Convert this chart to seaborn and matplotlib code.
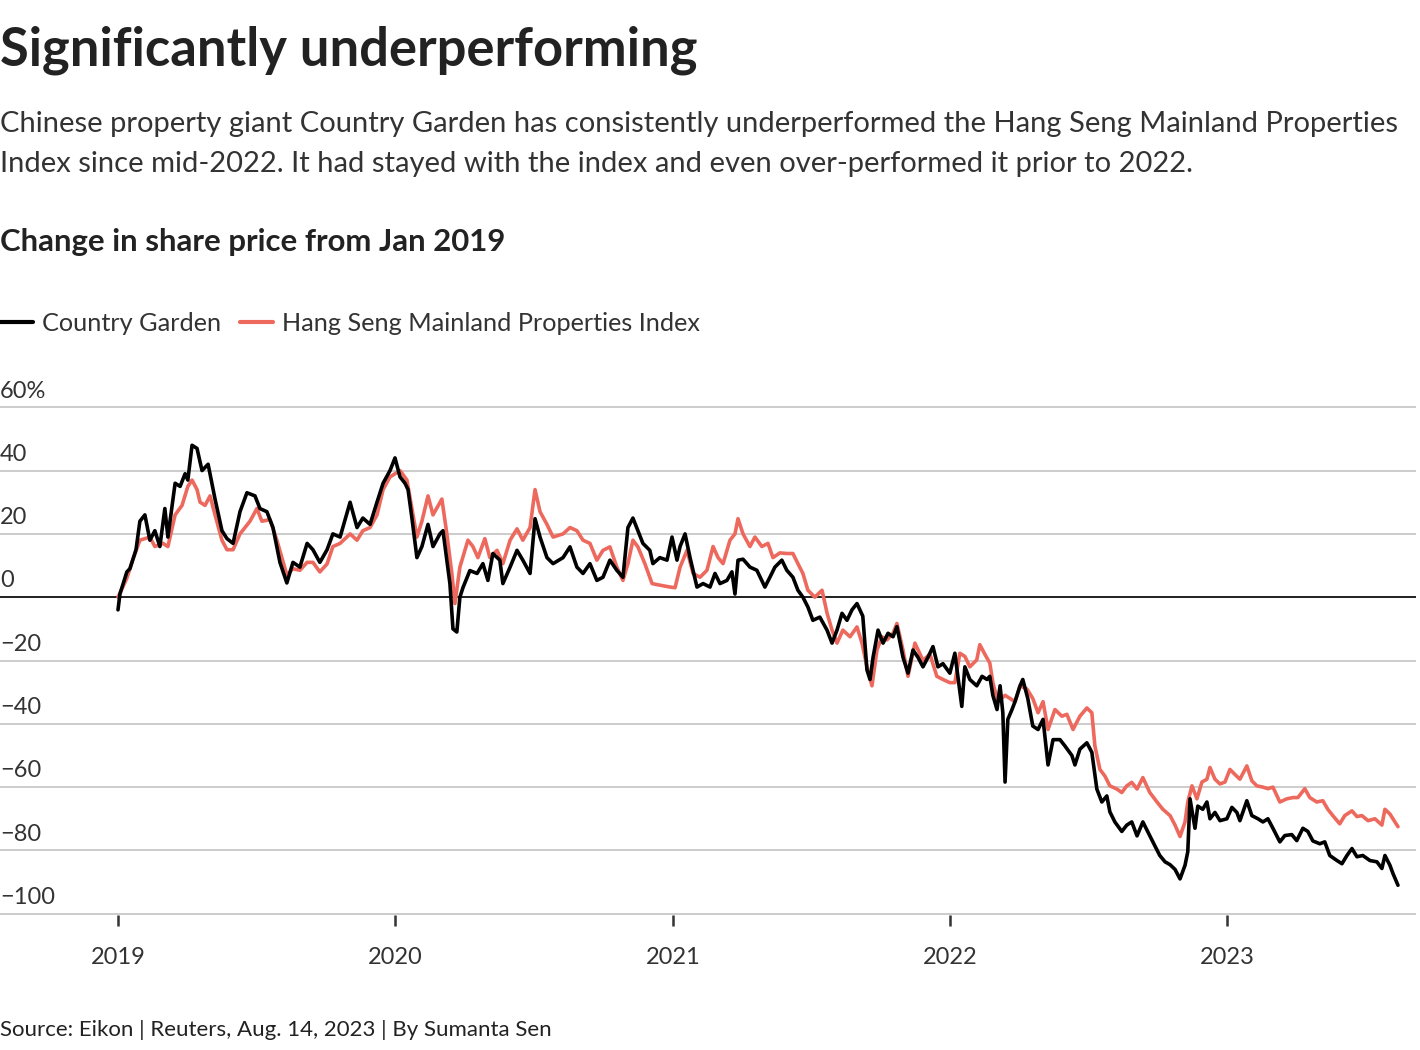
import pandas as pd
import numpy as np
import matplotlib
matplotlib.use("Agg")
import matplotlib.pyplot as plt
import matplotlib.transforms as mtransforms
from matplotlib.lines import Line2D
import seaborn as sns

cg_years = [0.000, 0.007, 0.032, 0.043, 0.065, 0.079, 0.097, 0.115, 0.133, 0.151, 0.169, 0.180,
            0.206, 0.224, 0.242, 0.252, 0.267, 0.285, 0.303, 0.325, 0.350, 0.375, 0.393, 0.415,
            0.440, 0.465, 0.494, 0.512, 0.537, 0.559, 0.584, 0.609, 0.631, 0.656, 0.682, 0.703,
            0.728, 0.754, 0.775, 0.801, 0.837, 0.862, 0.883, 0.909, 0.934, 0.956, 0.981, 0.999,
            1.017, 1.035, 1.046, 1.060, 1.078, 1.096, 1.118, 1.136, 1.161, 1.172, 1.186, 1.197,
            1.208, 1.222, 1.233, 1.244, 1.269, 1.295, 1.316, 1.334, 1.352, 1.377, 1.388, 1.414,
            1.439, 1.460, 1.486, 1.504, 1.522, 1.547, 1.569, 1.605, 1.630, 1.655, 1.677, 1.702,
            1.727, 1.749, 1.774, 1.799, 1.821, 1.839, 1.857, 1.875, 1.893, 1.918, 1.929, 1.954,
            1.980, 1.998, 2.016, 2.027, 2.045, 2.063, 2.088, 2.110, 2.135, 2.153, 2.171, 2.196,
            2.214, 2.225, 2.236, 2.254, 2.279, 2.304, 2.333, 2.351, 2.369, 2.394, 2.412, 2.434,
            2.452, 2.470, 2.488, 2.506, 2.531, 2.557, 2.575, 2.593, 2.611, 2.629, 2.647, 2.665,
            2.686, 2.701, 2.712, 2.723, 2.741, 2.759, 2.777, 2.795, 2.809, 2.831, 2.849, 2.867,
            2.885, 2.903, 2.921, 2.939, 2.957, 2.975, 3.000, 3.018, 3.043, 3.054, 3.072, 3.097,
            3.116, 3.134, 3.144, 3.155, 3.170, 3.181, 3.191, 3.199, 3.209, 3.224, 3.235, 3.253,
            3.263, 3.281, 3.299, 3.318, 3.336, 3.354, 3.372, 3.397, 3.415, 3.440, 3.451, 3.469,
            3.494, 3.512, 3.530, 3.548, 3.566, 3.577, 3.595, 3.620, 3.638, 3.656, 3.675, 3.696,
            3.721, 3.739, 3.757, 3.776, 3.794, 3.812, 3.830, 3.848, 3.858, 3.866, 3.884, 3.894,
            3.912, 3.927, 3.938, 3.956, 3.974, 3.999, 4.017, 4.035, 4.046, 4.071, 4.089, 4.111,
            4.129, 4.147, 4.165, 4.190, 4.208, 4.233, 4.251, 4.273, 4.291, 4.309, 4.334, 4.352,
            4.370, 4.396, 4.414, 4.432, 4.450, 4.468, 4.489, 4.515, 4.540, 4.558, 4.569, 4.587,
            4.598, 4.616]
cg_change = [-4.0, 1.0, 8.0, 9.0, 15.0, 24.0, 26.0, 18.0, 21.0, 16.0, 28.0, 19.0,
             36.0, 35.0, 39.0, 37.0, 48.0, 47.0, 40.0, 42.0, 31.0, 21.0, 18.5, 17.0,
             27.0, 33.0, 32.0, 28.0, 27.0, 22.0, 11.0, 4.5, 11.0, 9.5, 17.0, 15.0,
             11.0, 15.0, 20.0, 19.0, 30.0, 22.0, 25.0, 23.0, 30.0, 36.0, 40.0, 44.0,
             38.0, 36.0, 34.0, 25.0, 12.5, 16.0, 23.0, 16.0, 20.0, 21.0, 11.7, 4.3,
             -10.0, -11.0, 0.0, 3.0, 8.4, 7.5, 10.6, 5.3, 13.8, 11.7, 4.3, 9.5,
             14.8, 11.7, 7.5, 24.8, 19.0, 12.5, 10.6, 12.5, 15.9, 9.5, 7.5, 10.6,
             5.3, 6.3, 11.7, 8.5, 6.3, 22.0, 25.0, 21.0, 17.0, 14.8, 10.6, 12.5,
             11.7, 19.0, 11.7, 16.0, 20.0, 12.5, 3.2, 4.3, 3.2, 7.5, 4.3, 5.3,
             8.0, 1.0, 11.7, 12.0, 9.5, 8.5, 3.2, 6.3, 9.5, 11.7, 8.5, 6.3,
             2.2, 0.0, -3.1, -7.3, -6.3, -10.4, -14.5, -10.4, -5.1, -7.3, -4.0, -2.0,
             -6.0, -23.0, -26.0, -19.0, -10.4, -14.5, -11.4, -12.5, -9.3, -19.0, -24.0, -16.7,
             -19.0, -22.0, -19.0, -15.6, -22.0, -21.0, -24.0, -17.7, -34.5, -22.0, -26.0, -28.0,
             -25.0, -26.0, -25.0, -31.0, -35.5, -28.0, -36.5, -58.4, -38.6, -35.5, -33.0, -28.0,
             -26.0, -32.0, -40.7, -41.8, -38.6, -53.0, -45.0, -45.0, -47.0, -50.0, -53.0, -48.0,
             -46.0, -49.0, -60.6, -64.7, -62.8, -67.8, -71.0, -74.0, -72.0, -71.0, -75.4, -71.0,
             -75.4, -78.5, -81.6, -83.6, -84.5, -86.0, -89.0, -84.7, -80.4, -63.7, -73.0, -66.0,
             -67.0, -64.7, -70.0, -68.0, -70.6, -70.0, -66.4, -68.0, -70.6, -64.3, -69.0, -70.0,
             -71.0, -70.0, -73.0, -77.3, -75.3, -75.0, -76.9, -73.0, -74.0, -77.0, -77.9, -77.3,
             -81.6, -83.2, -84.2, -81.6, -79.4, -82.0, -81.6, -83.2, -83.6, -85.7, -81.6, -84.7,
             -87.3, -91.0]

hs_years = [0.000, 0.032, 0.054, 0.079, 0.115, 0.133, 0.162, 0.180, 0.206, 0.231, 0.252, 0.267,
            0.285, 0.296, 0.314, 0.332, 0.350, 0.375, 0.393, 0.415, 0.440, 0.476, 0.501, 0.519,
            0.548, 0.573, 0.609, 0.631, 0.656, 0.682, 0.703, 0.728, 0.754, 0.775, 0.801, 0.837,
            0.862, 0.883, 0.909, 0.934, 0.956, 0.981, 0.999, 1.017, 1.042, 1.060, 1.078, 1.096,
            1.118, 1.136, 1.168, 1.186, 1.204, 1.215, 1.233, 1.262, 1.280, 1.298, 1.323, 1.341,
            1.367, 1.388, 1.414, 1.439, 1.460, 1.486, 1.504, 1.522, 1.547, 1.569, 1.605, 1.630,
            1.655, 1.677, 1.702, 1.727, 1.749, 1.774, 1.799, 1.821, 1.839, 1.857, 1.875, 1.900,
            1.926, 1.954, 1.991, 2.009, 2.027, 2.052, 2.074, 2.099, 2.124, 2.146, 2.164, 2.182,
            2.207, 2.225, 2.236, 2.254, 2.279, 2.297, 2.322, 2.344, 2.362, 2.387, 2.412, 2.434,
            2.452, 2.470, 2.488, 2.513, 2.539, 2.557, 2.575, 2.593, 2.614, 2.640, 2.665, 2.683,
            2.701, 2.719, 2.737, 2.755, 2.773, 2.795, 2.809, 2.831, 2.849, 2.874, 2.903, 2.928,
            2.953, 2.975, 3.000, 3.018, 3.036, 3.054, 3.072, 3.097, 3.108, 3.126, 3.144, 3.155,
            3.173, 3.199, 3.217, 3.235, 3.253, 3.278, 3.299, 3.318, 3.336, 3.354, 3.379, 3.404,
            3.422, 3.444, 3.469, 3.494, 3.512, 3.523, 3.541, 3.559, 3.577, 3.602, 3.620, 3.638,
            3.656, 3.675, 3.696, 3.721, 3.747, 3.768, 3.794, 3.812, 3.830, 3.848, 3.858, 3.873,
            3.891, 3.909, 3.927, 3.938, 3.956, 3.974, 3.992, 4.010, 4.028, 4.046, 4.071, 4.089,
            4.107, 4.129, 4.147, 4.165, 4.190, 4.215, 4.237, 4.255, 4.280, 4.298, 4.323, 4.345,
            4.363, 4.381, 4.406, 4.424, 4.450, 4.468, 4.486, 4.508, 4.533, 4.558, 4.569, 4.587,
            4.598, 4.616]
hs_change = [0.0, 6.0, 12.0, 18.0, 19.0, 16.0, 17.0, 16.0, 26.0, 29.0, 35.0, 37.0,
             34.0, 30.0, 29.0, 32.0, 26.0, 18.0, 15.0, 15.0, 20.0, 24.0, 28.0, 24.0,
             24.5, 18.0, 7.0, 9.0, 8.5, 11.0, 11.0, 8.0, 10.5, 16.0, 17.0, 20.0,
             18.0, 21.0, 22.0, 26.0, 34.0, 38.0, 39.0, 40.0, 37.0, 28.0, 19.0, 24.0,
             32.0, 26.0, 31.0, 20.0, 7.5, -2.0, 9.5, 18.0, 16.0, 12.5, 18.5, 12.5,
             14.8, 10.6, 18.0, 21.6, 18.0, 22.0, 34.0, 27.0, 23.0, 19.0, 20.0, 22.0,
             21.0, 18.0, 17.0, 11.7, 14.8, 15.9, 9.5, 5.3, 10.6, 18.0, 15.9, 10.6,
             4.3, 3.8, 3.2, 3.0, 9.5, 14.8, 7.5, 6.3, 8.5, 16.0, 12.5, 10.6,
             18.0, 20.0, 24.8, 20.0, 16.0, 19.0, 16.0, 17.0, 12.5, 14.0, 13.8, 13.8,
             10.6, 7.5, 2.2, 0.0, 2.2, -5.0, -10.4, -14.5, -10.4, -12.5, -9.4, -14.5,
             -22.0, -28.0, -16.7, -12.5, -13.5, -11.4, -8.3, -16.7, -25.0, -14.5, -20.0, -18.0,
             -25.0, -26.0, -27.0, -27.0, -17.7, -18.7, -22.0, -19.8, -15.0, -18.0, -20.8, -27.0,
             -33.0, -31.0, -32.0, -33.0, -28.0, -29.0, -32.0, -36.5, -33.0, -41.8, -35.5, -37.6,
             -37.0, -41.8, -37.6, -35.0, -36.5, -47.0, -54.4, -56.5, -59.6, -60.6, -61.7, -59.6,
             -58.5, -60.6, -57.0, -61.7, -64.7, -67.0, -69.0, -72.0, -75.6, -71.0, -64.7, -59.6,
             -63.7, -58.4, -57.5, -53.8, -57.5, -59.0, -58.4, -54.4, -56.0, -57.5, -53.3, -58.0,
             -59.6, -60.0, -60.5, -60.0, -64.7, -63.7, -63.3, -63.3, -60.5, -63.3, -64.7, -64.3,
             -67.0, -69.0, -71.6, -69.0, -67.5, -69.3, -69.0, -70.6, -70.0, -72.0, -67.0, -68.5,
             -70.0, -72.5]

y_ticks = [-100, -80, -60, -40, -20, 0, 20, 40, 60]
y_labels = ["\u2212100", "\u221280", "\u221260", "\u221240", "\u221220", "0", "20", "40", "60%"]
x_years = [2019, 2020, 2021, 2022, 2023]

title = "Significantly underperforming"
subtitle = ("Chinese property giant Country Garden has consistently underperformed the Hang Seng Mainland Properties\n"
            "Index since mid-2022. It had stayed with the index and even over-performed it prior to 2022.")
chart_label = "Change in share price from Jan 2019"
source = "Source: Eikon | Reuters, Aug. 14, 2023 | By Sumanta Sen"

CG_COLOR = "#000000"
HS_COLOR = "#ee695d"
TEXT = "#222222"
SOFT = "#333333"
GRID = "#c8c8c8"

start = pd.Timestamp("2019-01-01")


def to_dates(years):
    return start + pd.to_timedelta(np.array(years) * 365.25, unit="D")


df_cg = pd.DataFrame({"date": to_dates(cg_years), "change": cg_change})
df_hs = pd.DataFrame({"date": to_dates(hs_years), "change": hs_change})

sns.set_style("white")
plt.rcParams["font.family"] = ["Lato", "DejaVu Sans"]

fig = plt.figure(figsize=(14.2, 10.5), dpi=100)
ax = fig.add_axes([0.0, 135 / 1050, 1416 / 1420, 509 / 1050])

sns.lineplot(data=df_hs, x="date", y="change", color=HS_COLOR, lw=2.6, ax=ax)
sns.lineplot(data=df_cg, x="date", y="change", color=CG_COLOR, lw=2.6, ax=ax)

ax.set_ylim(-100.4, 60.4)
ax.set_xlim(start - pd.Timedelta(days=0.4255 * 365.25), start + pd.Timedelta(days=4.681 * 365.25))
ax.set_yticks(y_ticks)
ax.set_yticklabels([])
ax.grid(axis="y", color=GRID, lw=1.3)
ax.grid(axis="x", visible=False)
ax.axhline(0, color=TEXT, lw=1.4, zorder=1)
for s in ax.spines.values():
    s.set_visible(False)
ax.tick_params(axis="y", length=0)
ax.set_xticks([pd.Timestamp(f"{y}-01-01") for y in x_years])
ax.set_xticklabels([str(y) for y in x_years])
ax.tick_params(axis="x", bottom=True, direction="out", length=8, width=1.8, color=SOFT,
               pad=15, labelsize=17, labelcolor=SOFT)
ax.set_xlabel("")
ax.set_ylabel("")

trans = mtransforms.blended_transform_factory(ax.transAxes, ax.transData)
for v, lab in zip(y_ticks, y_labels):
    ax.annotate(lab, xy=(0, v), xycoords=trans, xytext=(0, 7), textcoords="offset points",
                ha="left", va="baseline", fontsize=17, color=SOFT)

fig.text(0.0, 1 - 50 / 1050, title, fontsize=37.8, fontweight="bold", color=TEXT,
         ha="left", va="center")
fig.text(0.0, 1 - 144 / 1050, subtitle, fontsize=21, color=SOFT,
         ha="left", va="center", linespacing=1.62)
fig.text(0.0, 1 - 242 / 1050, chart_label, fontsize=22.4, fontweight="bold", color=TEXT,
         ha="left", va="center")
fig.text(0.0, 1 - 1030 / 1050, source, fontsize=16, color=TEXT, ha="left", va="center")

handles = [Line2D([], [], color=CG_COLOR, lw=3), Line2D([], [], color=HS_COLOR, lw=3)]
leg = fig.legend(handles, ["Country Garden", "Hang Seng Mainland Properties Index"],
                 loc="center left", bbox_to_anchor=(0.0, 1 - 323 / 1050), ncol=2,
                 frameon=False, fontsize=18.2, handlelength=1.3, handletextpad=0.35,
                 columnspacing=0.75, borderpad=0, borderaxespad=0)
for t in leg.get_texts():
    t.set_color(SOFT)

fig.savefig("out.png", dpi=100, facecolor="white")
